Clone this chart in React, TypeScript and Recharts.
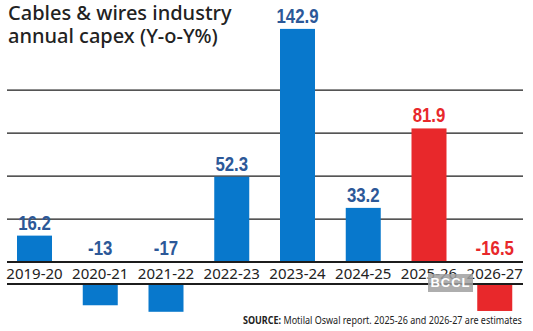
import { BarChart, Bar, XAxis, YAxis, CartesianGrid, ReferenceLine, LabelList } from "recharts";

const periods = ["2019-20", "2020-21", "2021-22", "2022-23", "2023-24", "2024-25", "2025-26", "2026-27"];
const capex = [16.2, -13, -17, 52.3, 142.9, 33.2, 81.9, -16.5];
const estimates = ["2025-26", "2026-27"];
const gridValues = [26.35, 52.7, 79.05, 105.4];

const data = periods.map((period, i) => ({ period, value: capex[i], est: estimates.includes(period) }));

const BLUE = "#0878cc";
const BLUE_TEXT = "#2c5898";
const RED = "#e8282b";
const LINE = "#1c1c1c";
const BAND = 22; // gap for the category labels under the zero line

function zeroOf(y: number, height: number, value: number) {
  return value < 0 ? Math.min(y, y + height) : Math.max(y, y + height);
}

function CapexBar(p: any) {
  const { x, y, width, height, payload } = p;
  const top = Math.min(y, y + height);
  const h = Math.abs(height);
  const neg = payload.value < 0;
  return <rect x={x} y={neg ? top + BAND : top} width={width} height={h} fill={payload.est ? RED : BLUE} />;
}

function ValueLabel(p: any) {
  const { x, y, width, height, value, index } = p;
  const v = Number(value);
  const top = Math.min(y, y + height);
  const baseline = v < 0 ? zeroOf(y, height, v) - 7 : top - 6;
  return (
    <text
      transform={`translate(${x + width / 2},${baseline}) scale(0.8,1)`}
      textAnchor="middle"
      fill={data[index].est ? RED : BLUE_TEXT}
      style={{ fontFamily: "'Liberation Sans', Arial, sans-serif", fontWeight: 700, fontSize: 21 }}
    >
      {value}
    </text>
  );
}

function PeriodLabel(p: any) {
  const { x, y, width, height, value, index } = p;
  const zero = zeroOf(y, height, capex[index]);
  return (
    <text
      x={x + width / 2}
      y={zero + 17}
      textAnchor="middle"
      fill="#222"
      style={{ fontFamily: "'Noto Sans', sans-serif", fontSize: 15 }}
    >
      {value}
    </text>
  );
}

export default function App() {
  return (
    <div style={{ position: "absolute", left: 0, top: 0, width: 533, height: 331, background: "#fff", fontFamily: "'Noto Sans', sans-serif" }}>
      <BarChart width={533} height={331} data={data} margin={{ top: 1, right: 5, left: 2, bottom: 20 }} barSize={35}>
        <CartesianGrid
          vertical={false}
          horizontalValues={gridValues}
          horizontal={(g: any) => <line key={g.key} x1={g.x1 + 5} x2={g.x2 - 5} y1={g.y1} y2={g.y2} stroke={LINE} strokeWidth={1.2} />}
        />
        <XAxis dataKey="period" hide />
        <YAxis hide domain={[-30, 160]} />
        <ReferenceLine
          y={0}
          shape={(l: any) => (
            <g>
              <line x1={l.x1 + 5} x2={l.x2 - 5} y1={l.y1} y2={l.y2} stroke={LINE} strokeWidth={2} />
              <line x1={l.x1 + 5} x2={l.x2 - 5} y1={l.y1 + BAND} y2={l.y2 + BAND} stroke={LINE} strokeWidth={2} />
            </g>
          )}
        />
        <Bar dataKey="value" shape={CapexBar} isAnimationActive={false}>
          <LabelList dataKey="value" content={ValueLabel} />
          <LabelList dataKey="period" content={PeriodLabel} />
        </Bar>
      </BarChart>
      <div style={{ position: "absolute", left: 8, top: 1, fontSize: 20, lineHeight: "23px", fontWeight: 500, color: "#222" }}>
        Cables &amp; wires industry
        <br />
        annual capex (Y-o-Y%)
      </div>
      <div
        style={{
          position: "absolute",
          right: 11,
          top: 313,
          fontSize: 10,
          color: "#222",
          whiteSpace: "nowrap",
          transform: "scaleX(0.9)",
          transformOrigin: "right center",
        }}
      >
        <b>SOURCE:</b> Motilal Oswal report. 2025-26 and 2026-27 are estimates
      </div>
      <div
        style={{
          position: "absolute",
          left: 428,
          top: 274,
          width: 45,
          height: 18,
          background: "rgba(160,160,160,0.85)",
          color: "#fff",
          fontFamily: "'Liberation Sans', sans-serif",
          fontWeight: 700,
          fontSize: 13,
          lineHeight: "18px",
          textAlign: "center",
          letterSpacing: 1,
        }}
      >
        BCCL
      </div>
    </div>
  );
}
